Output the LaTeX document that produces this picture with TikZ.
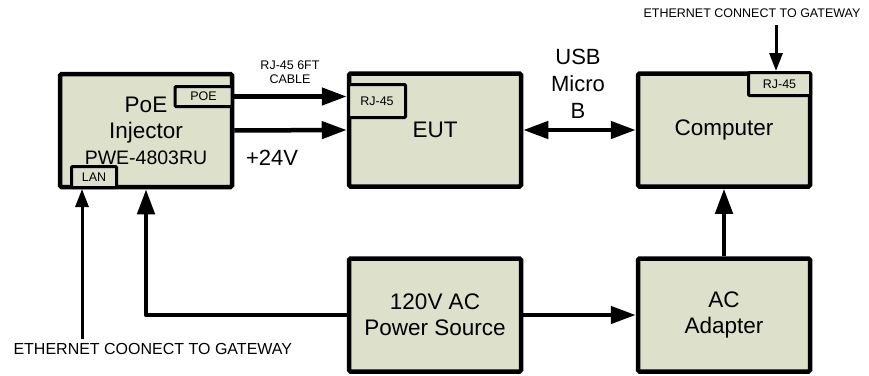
\documentclass[tikz,border=0pt]{standalone}
\usepackage{fontspec}
\setmainfont{Liberation Sans}
\usetikzlibrary{arrows.meta}
\definecolor{boxfill}{RGB}{221,224,203}

\begin{document}
\begin{tikzpicture}[x=1pt, y=-1pt,
    >={Triangle[length=25pt, width=17pt]},
    block/.style={draw, line width=4.5pt, fill=boxfill, rounded corners=1.5pt,
        minimum width=172pt, minimum height=113pt, inner sep=0pt,
        font=\fontsize{22.5}{26}\selectfont, align=center},
    port/.style={draw, line width=3pt, fill=boxfill, rounded corners=1pt,
        inner sep=0pt, font=\fontsize{12.5}{14}\selectfont},
    big/.style={font=\fontsize{22}{27}\selectfont, align=center},
    small/.style={font=\fontsize{12.5}{14}\selectfont, align=center},
    wire/.style={line width=4.5pt, line join=round},
    thinwire/.style={line width=3pt, -{Triangle[length=18pt, width=13pt]}}]

    \useasboundingbox (0,0) rectangle (869,375);

    % Blocks
    \node[block] (poe) at (146,130.5)
        {PoE\\Injector\\\fontsize{19.5}{24}\selectfont PWE-4803RU};
    \node[block] (eut) at (435,130) {EUT};
    \node[block] (comp) at (724,130) {Computer};
    \node[block] (mains) at (435,315) {120V AC\\Power Source};
    \node[block] (adapter) at (724,315) {AC\\Adapter};

    % Ports
    \node[port, minimum width=57pt, minimum height=20pt] (poeport) at (203.5,96.5) {POE};
    \node[port, minimum width=45pt, minimum height=21pt] (lan) at (94,177) {LAN};
    \node[port, minimum width=57pt, minimum height=33pt] (eutport) at (377,101) {RJ-45};
    \node[port, minimum width=62pt, minimum height=23pt] (compport) at (779.5,84) {RJ-45};

    % Labels
    \node[small] (cable) at (290,72) {RJ-45 6FT\\CABLE};
    \node[big] (volt) at (272,158) {+24V};
    \node[big] (usb) at (578,84) {USB\\Micro\\B};
    \node[small] (ethtop) at (752,13) {ETHERNET CONNECT TO GATEWAY};
    \node[font=\fontsize{16}{19}\selectfont, anchor=west] (ethbot) at (10,349)
        {ETHERNET COONECT TO GATEWAY};

    % PoE injector to EUT
    \draw[wire, ->] (poeport.east) -- (poeport.east -| eut.west);
    \draw[wire, ->] (poe.east) -- (eut.west);

    % USB link
    \draw[wire, <->] (eut.east) -- (comp.west);

    % Power
    \draw[wire, ->] (mains.west) -| (poe.south);
    \draw[wire, ->] (mains.east) -- (adapter.west);
    \draw[wire, ->] (adapter.north) -- (comp.south);

    % Ethernet feeds
    \coordinate (lanfeed) at (82,339);
    \draw[thinwire] (lanfeed) -- (lanfeed |- lan.south);
    \coordinate (ethfeed) at (776,25);
    \draw[thinwire] (ethfeed) -- (ethfeed |- compport.north);

\end{tikzpicture}
\end{document}
